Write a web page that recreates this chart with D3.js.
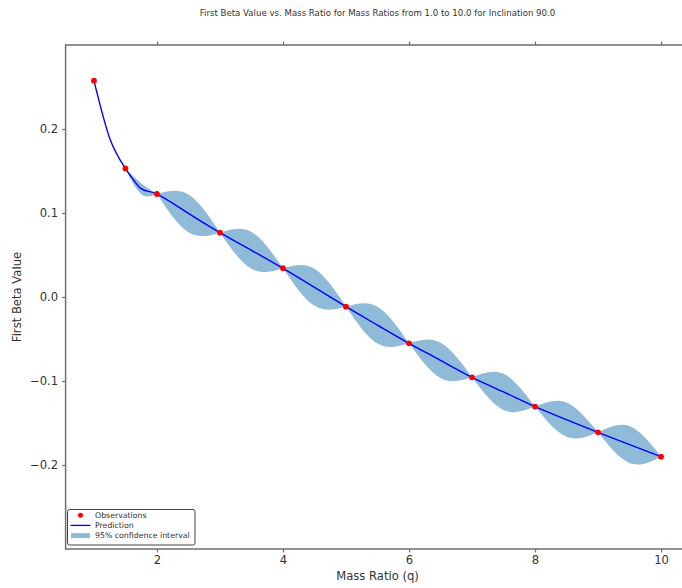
<!DOCTYPE html>
<html><head><meta charset="utf-8">
<script src="https://cdn.jsdelivr.net/npm/d3@7"></script>
<style>body{margin:0;background:#fff} text{font-family:"DejaVu Sans",sans-serif}</style>
</head><body><svg id="c" width="682" height="588"></svg>
<script>
const titleText = "First Beta Value vs. Mass Ratio for Mass Ratios from 1.0 to 10.0 for Inclination 90.0";
const xLabel = "Mass Ratio (q)";
const yLabel = "First Beta Value";
const obsX = [1, 1.5, 2, 3, 4, 5, 6, 7, 8, 9, 10];
const obsY = [0.2575, 0.153, 0.1226, 0.0766, 0.0342, -0.0115, -0.0551, -0.0956, -0.1305, -0.1611, -0.1901];
const predX = [1, 1.25, 1.5, 1.75, 2, 2.5, 3, 3.5, 4, 4.5, 5, 5.5, 6, 6.5, 7, 7.5, 8, 8.5, 9, 9.5, 10];
const predY = [0.2575, 0.189, 0.153, 0.129, 0.1226, 0.0995, 0.0766, 0.0555, 0.0342, 0.0115, -0.0115, -0.0335, -0.0551, -0.0755, -0.0956, -0.113, -0.1305, -0.146, -0.1611, -0.1757, -0.1901];
const bandStart = [1, 1.5, 2, 3, 4, 5, 6, 7, 8, 9];
const bandEnd = [1.5, 2, 3, 4, 5, 6, 7, 8, 9, 10];
const bandHalf = [0, 0.0065, 0.0225, 0.022, 0.022, 0.022, 0.021, 0.0215, 0.0205, 0.022];
const xTicks = [2, 4, 6, 8, 10];
const yTicks = [-0.2, -0.1, 0.0, 0.1, 0.2];
const legendLabels = ["Observations", "Prediction", "95% confidence interval"];

const svg = d3.select("#c");
const L = 65.6, R = 689.4, T = 45, B = 549;
const x = d3.scaleLinear().domain([0.55, 10.45]).range([L, R]);
const y = d3.scaleLinear().domain([-0.3, 0.3]).range([B, T]);

svg.append("defs").append("clipPath").attr("id", "clip")
  .append("rect").attr("x", L).attr("y", T).attr("width", R - L).attr("height", B - T);

const plot = svg.append("g").attr("clip-path", "url(#clip)");
const predAt = v => predY[predX.indexOf(v)];

// confidence band lenses
const area = d3.area().x(d => x(d.x)).y0(d => y(d.y - d.h)).y1(d => y(d.y + d.h)).curve(d3.curveNatural);
bandStart.forEach((a, i) => {
  const b = bandEnd[i], h = bandHalf[i];
  if (h <= 0) return;
  const m = (a + b) / 2;
  const pts = [{x: a, y: predAt(a), h: 0}, {x: m, y: predAt(m), h: h}, {x: b, y: predAt(b), h: 0}];
  plot.append("path").attr("d", area(pts)).attr("fill", "#1f77b4").attr("fill-opacity", 0.5);
});

// prediction
const line = d3.line().x((d, i) => x(predX[i])).y(d => y(d)).curve(d3.curveNatural);
plot.append("path").attr("d", line(predY)).attr("fill", "none").attr("stroke", "#0000ff").attr("stroke-width", 1.4);

// observations
plot.selectAll("circle.obs").data(obsY).enter().append("circle")
  .attr("cx", (d, i) => x(obsX[i])).attr("cy", d => y(d)).attr("r", 2.9).attr("fill", "#ff0000");

// axes
const axCol = "#6e6e6e";
const fmt = d => d3.format(".1f")(d).replace("-", "\u2212");
const gx = svg.append("g").attr("transform", `translate(0,${B})`)
  .call(d3.axisBottom(x).tickValues(xTicks).tickSize(3.5).tickPadding(3).tickFormat(d3.format("d")));
const gxt = svg.append("g").attr("transform", `translate(0,${T})`)
  .call(d3.axisTop(x).tickValues(xTicks).tickSize(3.5).tickFormat(""));
const gy = svg.append("g").attr("transform", `translate(${L},0)`)
  .call(d3.axisLeft(y).tickValues(yTicks).tickSize(3.5).tickPadding(4).tickFormat(fmt));
[gx, gxt, gy].forEach(g => {
  g.select(".domain").remove();
  g.selectAll(".tick line").attr("stroke", axCol).attr("stroke-width", 1.2);
  g.selectAll(".tick text").attr("fill", "#333").attr("font-size", "11.6px").attr("font-family", "DejaVu Sans");
});

// spines
svg.append("rect").attr("x", L).attr("y", T).attr("width", R - L).attr("height", B - T)
  .attr("fill", "none").attr("stroke", axCol).attr("stroke-width", 1.5);

// labels
svg.append("text").attr("x", (L + R) / 2).attr("y", 16).attr("text-anchor", "middle")
  .attr("font-size", "8.6px").attr("fill", "#333").text(titleText);
svg.append("text").attr("x", (L + R) / 2).attr("y", 580).attr("text-anchor", "middle")
  .attr("font-size", "11.6px").attr("fill", "#333").text(xLabel);
svg.append("text").attr("transform", `translate(21,${(T + B) / 2}) rotate(-90)`).attr("text-anchor", "middle")
  .attr("font-size", "11.6px").attr("fill", "#333").text(yLabel);

// legend
const lg = svg.append("g");
lg.append("rect").attr("x", 67.5).attr("y", 509.5).attr("width", 127.5).attr("height", 35.5).attr("rx", 2)
  .attr("fill", "#fff").attr("stroke", "#444").attr("stroke-width", 1);
const rowY = [515.2, 525.4, 535.6];
lg.append("circle").attr("cx", 80.5).attr("cy", rowY[0]).attr("r", 2.5).attr("fill", "#ff0000");
lg.append("line").attr("x1", 70.5).attr("x2", 90.5).attr("y1", rowY[1]).attr("y2", rowY[1]).attr("stroke", "#0000ff").attr("stroke-width", 1.3);
lg.append("rect").attr("x", 71).attr("y", rowY[2] - 2.5).attr("width", 19).attr("height", 5).attr("fill", "#1f77b4").attr("fill-opacity", 0.5);
legendLabels.forEach((t, i) => {
  lg.append("text").attr("x", 95).attr("y", rowY[i] + 2.8).attr("font-size", "7.8px").attr("fill", "#333").text(t);
});
</script></body></html>
